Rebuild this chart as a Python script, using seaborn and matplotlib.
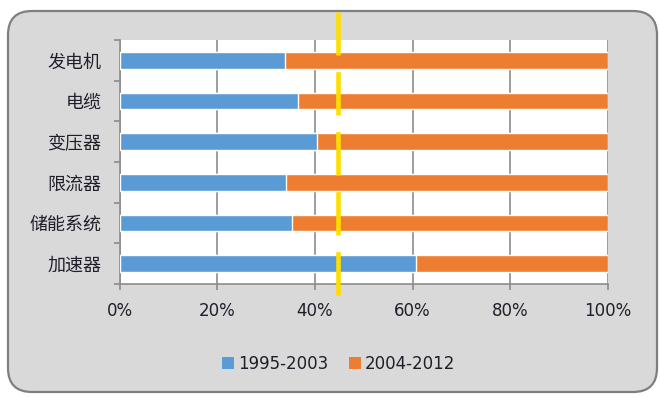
import numpy as np
import pandas as pd
import matplotlib
matplotlib.use("Agg")
import matplotlib.pyplot as plt
from matplotlib.patches import FancyBboxPatch, Patch
from matplotlib.transforms import IdentityTransform
from matplotlib.ticker import FixedLocator, PercentFormatter
import seaborn as sns

# Share of patents by application field in two periods (%)
categories = ["发电机", "电缆", "变压器", "限流器", "储能系统", "加速器"]
early_share = [33.9, 36.6, 40.5, 34.0, 35.3, 60.7]   # 1995-2003
late_share = [66.1, 63.4, 59.5, 66.0, 64.7, 39.3]    # 2004-2012
series_names = ["1995-2003", "2004-2012"]
x_ticks = [0, 20, 40, 60, 80, 100]
marker_pct = 44.8

BLUE = "#5B9BD5"
ORANGE = "#ED7D31"
GRID = "#8C8C8C"
TEXT = "#1F1F2A"

sns.set_theme(style="white")
plt.rcParams["font.family"] = ["DejaVu Sans"]
plt.rcParams["lines.scale_dashes"] = False

df = pd.DataFrame({
    "category": categories,
    "early": early_share,
    "late": late_share,
})
df["total"] = df["early"] + df["late"]

W, H, DPI = 660, 397, 100
fig = plt.figure(figsize=(W / DPI, H / DPI), dpi=DPI, facecolor="white")

# rounded grey panel behind the chart
panel = FancyBboxPatch((8, 5), 649, 381,
                       boxstyle="round,pad=0,rounding_size=24",
                       transform=IdentityTransform(),
                       facecolor="#D9D9D9", edgecolor="#7F7F7F",
                       linewidth=1.6, zorder=-5)
fig.add_artist(panel)

ax = fig.add_axes([119.6 / W, 113 / H, (608 - 119.6) / W, 244 / H])
ax.set_facecolor("white")

sns.barplot(data=df, y="category", x="total", color=ORANGE, orient="h",
            width=0.41, saturation=1, ax=ax, zorder=3)
sns.barplot(data=df, y="category", x="early", color=BLUE, orient="h",
            width=0.41, saturation=1, ax=ax, zorder=4)

ax.set_xlim(0, 100)
ax.set_ylim(len(categories) - 0.5, -0.5)
ax.set_xlabel("")
ax.set_ylabel("")

# axes, grid and ticks
ax.xaxis.set_major_locator(FixedLocator(x_ticks))
ax.xaxis.set_major_formatter(PercentFormatter(decimals=0))
ax.grid(axis="x", color=GRID, linewidth=1.2, zorder=1)
ax.grid(axis="y", visible=False)
ax.set_axisbelow(True)
for side in ["top", "right"]:
    ax.spines[side].set_visible(False)
for side in ["left", "bottom"]:
    ax.spines[side].set_color(GRID)
    ax.spines[side].set_linewidth(1.2)

ax.tick_params(axis="x", which="major", length=4, width=1.2, color=GRID,
               pad=9, labelsize=12, labelcolor=TEXT, bottom=True)
ax.yaxis.set_minor_locator(FixedLocator(np.arange(-0.5, len(categories), 1.0)))
ax.tick_params(axis="y", which="major", length=0, pad=13, labelsize=13,
               labelcolor=TEXT, left=True)
ax.tick_params(axis="y", which="minor", length=4, width=1.2, color=GRID,
               left=True)
for lab in ax.get_yticklabels():
    lab.set_family(["Noto Sans CJK SC", "DejaVu Sans"])

# reference line across the chart
ax.axvline(marker_pct, ymin=-0.045, ymax=1.115, color="#FFDD00",
           linewidth=3.3, dashes=(31.2, 12.0), solid_capstyle="butt",
           dash_capstyle="butt", clip_on=False, zorder=6)

handles = [Patch(facecolor=BLUE, edgecolor="none"),
           Patch(facecolor=ORANGE, edgecolor="none")]
fig.legend(handles, series_names, loc="center", bbox_to_anchor=(0.513, 0.083),
           ncol=2, frameon=False, fontsize=12, labelcolor=TEXT,
           handlelength=0.75, handleheight=0.75, handletextpad=0.25,
           columnspacing=1.2)

fig.savefig("out.png", dpi=DPI, facecolor="white")
